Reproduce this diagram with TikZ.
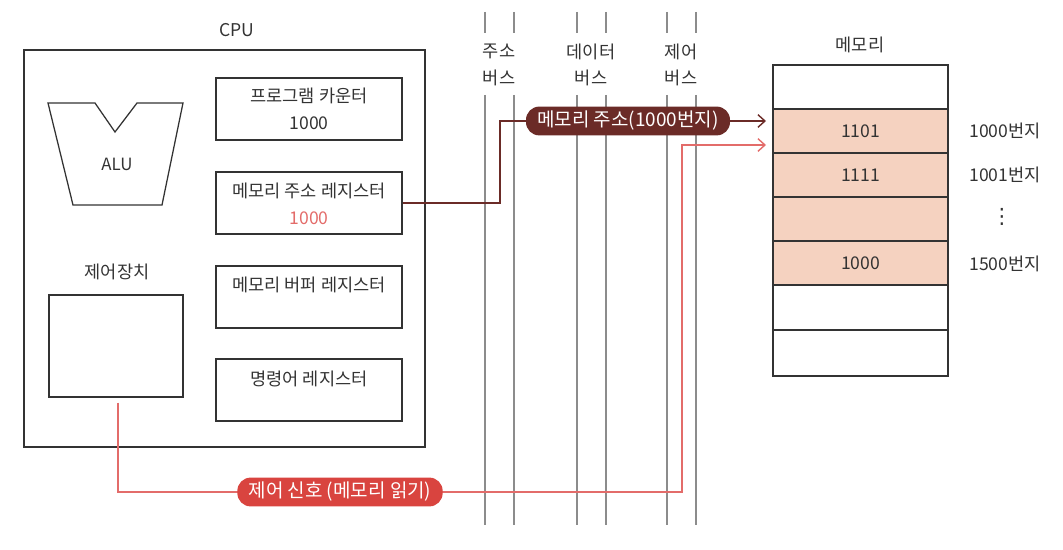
\documentclass[tikz,border=0pt]{standalone}
\usepackage{fontspec}
\setmainfont{Noto Sans CJK KR}
\newfontfamily\symfont{DejaVu Sans}
\usetikzlibrary{arrows.meta,positioning,calc}
\definecolor{memfill}{HTML}{F5D2C0}
\definecolor{addrc}{HTML}{6B2B27}
\definecolor{ctrlc}{HTML}{D9443F}
\definecolor{ctrlline}{HTML}{E36C6A}
\definecolor{busc}{HTML}{8C8C8C}
\definecolor{ink}{HTML}{333333}

\begin{document}
\begin{tikzpicture}[x=0.025cm, y=-0.025cm,
  box/.style={draw=ink, line width=0.9pt},
  reg/.style={box, minimum width=4.65cm, minimum height=1.55cm, inner sep=0pt},
  lbl/.style={font=\fontsize{12.5}{14}\selectfont, text=ink},
  bus/.style={busc, line width=1pt},
  cell/.style={box, lbl, minimum width=4.375cm, minimum height=1.1cm, inner sep=0pt},
  pill/.style={rounded corners=0.33cm, minimum height=0.66cm, inner xsep=8pt, text=white, font=\fontsize{13.5}{15}\selectfont},
  tip/.style={-{Straight Barb[length=5pt, width=9pt]}}
]
  \useasboundingbox (0,0) rectangle (1063,550);

  % CPU
  \node[lbl] (cpulbl) at (237,30) {CPU};
  \node[box, minimum width=10.025cm, minimum height=9.925cm, inner sep=0pt] (cpu) at (224.5,248.5) {};

  % ALU
  \draw[box] (48,103) -- (95,103) -- (115,132) -- (137,103) -- (183,103)
    -- (162,205) -- (73,205) -- cycle;
  \node[lbl, font=\fontsize{12}{14}\selectfont] (alu) at (117,164) {ALU};

  % control unit
  \node[lbl] (culbl) at (117,272) {제어장치};
  \node[box, minimum width=3.35cm, minimum height=2.55cm, inner sep=0pt] (cu) at (116,346) {};

  % registers
  \node[reg] (pc)  at (309,109) {};
  \node[reg] (mar) at (309,203) {};
  \node[reg] (mbr) at (309,297) {};
  \node[reg] (ir)  at (309,390) {};
  \node[lbl] at (309,96)  {프로그램 카운터};
  \node[lbl] at (309,123) {1000};
  \node[lbl] at (309,191) {메모리 주소 레지스터};
  \node[lbl, text=ctrlline] at (309,218) {1000};
  \node[lbl] at (309,285) {메모리 버퍼 레지스터};
  \node[lbl] at (309,379) {명령어 레지스터};

  % buses
  \foreach \x in {485,514,577,606,667,696} {
    \draw[bus] (\x,12) -- (\x,33);
    \draw[bus] (\x,95) -- (\x,525);
  }
  \node[lbl, align=center, font=\fontsize{12.5}{19}\selectfont] (abus) at (499,65) {주소\\버스};
  \node[lbl, align=center, font=\fontsize{12.5}{19}\selectfont] (dbus) at (591,65) {데이터\\버스};
  \node[lbl, align=center, font=\fontsize{12.5}{19}\selectfont] (cbus) at (681,65) {제어\\버스};

  % memory
  \node[lbl] (memlbl) at (860,45) {메모리};
  \node[cell] (m0) at (860.5,87) {};
  \node[cell, fill=memfill] (m1) at (860.5,131) {1101};
  \node[cell, fill=memfill] (m2) at (860.5,175) {1111};
  \node[cell, fill=memfill] (m3) at (860.5,219) {};
  \node[cell, fill=memfill] (m4) at (860.5,263) {1000};
  \node[cell] (m5) at (860.5,307.5) {};
  \node[cell, minimum height=1.15cm] (m6) at (860.5,353) {};
  \node[lbl] (a1) at (1005,131) {1000번지};
  \node[lbl] (a2) at (1005,175) {1001번지};
  \node[lbl, font=\symfont\fontsize{15}{15}\selectfont] (a3) at (1002,217) {⋮};
  \node[lbl] (a4) at (1005,264) {1500번지};

  % address signal
  \coordinate (addrin) at (766,121);
  \coordinate (ctrlin) at (766,145);
  \draw[addrc, line width=1pt, tip] (mar.east) -- (500,203) -- (500,121) -- (addrin);
  \node[pill, fill=addrc] (addrlbl) at (628,121) {메모리 주소(1000번지)};

  % control signal
  \draw[ctrlline, line width=1pt, tip] (cu.south -| 118,0) ++(0,5) -- (118,492) -- (682,492) -- (682,145) -- (ctrlin);
  \node[pill, fill=ctrlc] (ctrllbl) at (340,492) {제어 신호 (메모리 읽기)};
\end{tikzpicture}
\end{document}
